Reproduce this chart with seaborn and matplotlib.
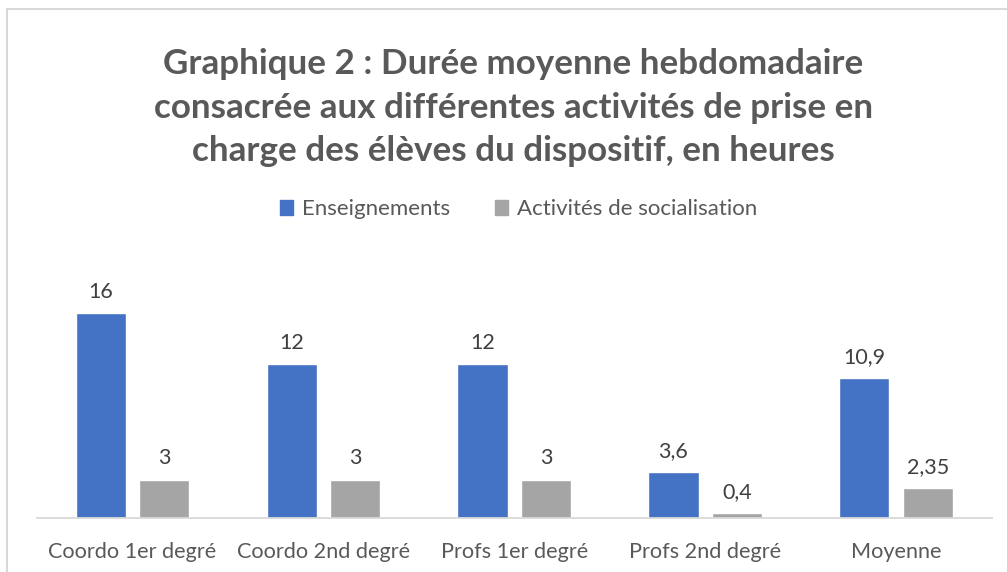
import pandas as pd
import seaborn as sns
import matplotlib.pyplot as plt

categories = ["Coordo 1er degré", "Coordo 2nd degré", "Profs 1er degré", "Profs 2nd degré", "Moyenne"]
enseignements = [16, 12, 12, 3.6, 10.9]
socialisation = [3, 3, 3, 0.4, 2.35]
series_names = ["Enseignements", "Activités de socialisation"]
colors = ["#4472C4", "#A5A5A5"]

df = pd.DataFrame({
    "categorie": categories * 2,
    "serie": [series_names[0]] * len(categories) + [series_names[1]] * len(categories),
    "heures": enseignements + socialisation,
})

sns.set_theme(style="white")
plt.rcParams["font.family"] = ["Lato", "DejaVu Sans"]

fig = plt.figure(figsize=(10.07, 5.72), dpi=100)
ax = fig.add_axes([0.0367, 0.0944, 0.948, 0.403])

sns.barplot(data=df, x="categorie", y="heures", hue="serie", palette=colors,
            width=0.665, gap=0.21, saturation=1, legend=False, ax=ax)

for cont in ax.containers:
    labels = [f"{v:g}".replace(".", ",") for v in cont.datavalues]
    ax.bar_label(cont, labels=labels, padding=8, fontsize=15.5, color="#404040")

ax.set_xlim(-0.5, 4.5)
ax.set_ylim(0, 18)
ax.set_xlabel("")
ax.set_ylabel("")
ax.set_yticks([])
ax.tick_params(axis="x", length=0, pad=17, labelsize=15.6, labelcolor="#595959")
for s in ["top", "right", "left"]:
    ax.spines[s].set_visible(False)
ax.spines["bottom"].set_color("#D9D9D9")
ax.spines["bottom"].set_linewidth(1.3)

# chart title and legend
fig.text(0.510, 0.812, "Graphique 2 : Durée moyenne hebdomadaire\nconsacrée aux différentes activités de prise en\ncharge des élèves du dispositif, en heures",
         ha="center", va="center", fontsize=25.2, fontweight="bold", color="#595959", linespacing=1.45)

handles = [plt.Rectangle((0, 0), 1, 1, color=c) for c in colors]
fig.legend(handles, series_names, loc="center", bbox_to_anchor=(0.515, 0.634), ncol=2,
           frameon=False, fontsize=16, labelcolor="#595959", handlelength=0.6,
           handleheight=0.6, handletextpad=0.4, columnspacing=2.0)

# chart border
fig.add_artist(plt.Rectangle((0.007, -0.05), 1.05, 0.034 + 1.0, transform=fig.transFigure,
                             fill=False, edgecolor="#D9D9D9", linewidth=1.5))

fig.savefig("out.png", dpi=100)
